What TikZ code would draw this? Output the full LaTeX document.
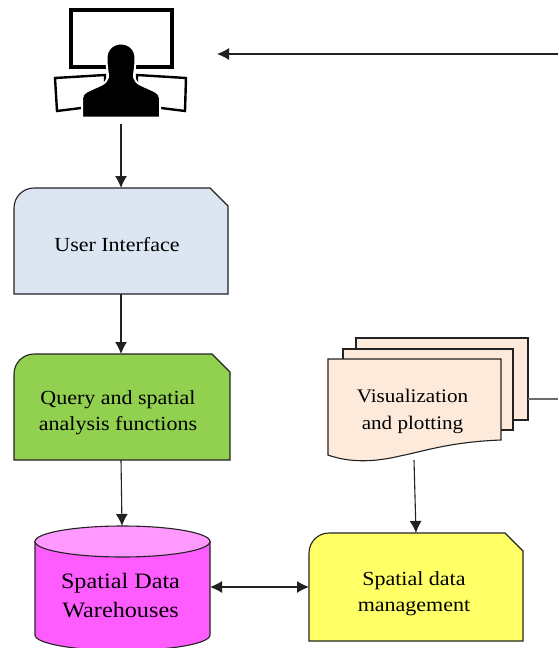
\documentclass[tikz,border=0pt]{standalone}
\usepackage{fontspec}
\setmainfont[FakeStretch=1.1]{Liberation Serif}
\usetikzlibrary{arrows.meta}
\definecolor{uiblue}{HTML}{DCE6F2}
\definecolor{qgreen}{HTML}{92D050}
\definecolor{docpeach}{HTML}{FDEADA}
\definecolor{cylside}{HTML}{FF5CFF}
\definecolor{cyltop}{HTML}{FF99FF}
\definecolor{mgmtyellow}{HTML}{FFFF66}
\definecolor{lineblack}{HTML}{222222}
\tikzset{
  shapeline/.style={draw=lineblack,line width=1.1pt,line join=miter},
  conn/.style={draw=lineblack,line width=1.1pt,-{Latex[length=12pt,width=12pt]}},
  biconn/.style={draw=lineblack,line width=1.1pt,{Latex[length=12pt,width=12pt]}-{Latex[length=12pt,width=12pt]}},
  plainconn/.style={draw=gray!85!black,line width=1.2pt},
  frameline/.style={draw=black,line width=#1,fill=white,line join=miter},
  lbl/.style={inner sep=0pt,align=center,text=black},
  lblmid/.style={lbl,font=\fontsize{20}{26}\selectfont},
  anchorbox/.style={inner sep=0pt,outer sep=0pt,minimum width=#1},
}
\newcommand{\snipbox}[5]{% x0 y0 x1 y1 fill
  \path[shapeline,fill=#5] (#1,#4) -- (#1,#2+20) arc[start angle=180,end angle=90,radius=20pt] -- (#3-18,#2) -- (#3,#2+18) -- (#3,#4) -- cycle;
}
\begin{document}
\begin{tikzpicture}[x=1pt,y=-1pt]
\useasboundingbox (0,0) rectangle (558,648);
\fill[white] (0,0) rectangle (558,648);
% user icon
\draw[frameline=3.4pt] (71,10) rectangle (172,67);
\draw[frameline=2.4pt] (55,78) -- (105,75) -- (105,105) -- (57,111) -- cycle;
\draw[frameline=2.4pt] (137,75) -- (186,78) -- (185,111) -- (137,105) -- cycle;
\path[draw=white,line width=2pt,fill=black] (82,117.5) -- (82,98) .. controls (83,92) and (88,91) .. (92,89) .. controls (98,86) and (107,84) .. (108,77) .. controls (108,72) and (106.5,68) .. (106.5,58) .. controls (106.5,49) and (113,43.5) .. (121,43.5) .. controls (129,43.5) and (135.5,49) .. (135.5,58) .. controls (135.5,68) and (134,72) .. (134,77) .. controls (135,84) and (144,86) .. (150,89) .. controls (154,91) and (159,92) .. (160,98) -- (160,117.5) -- cycle;
\node[inner sep=0pt,minimum width=78pt,minimum height=74pt] (user) at (121,81) {};
% boxes
\snipbox{14}{188}{228}{294}{uiblue}
\node[anchorbox=214pt,minimum height=106pt] (ui) at (121,241) {};
\node[lblmid] at (117,245) {User Interface};
\snipbox{14}{354}{230}{460}{qgreen}
\node[anchorbox=216pt,minimum height=106pt] (query) at (122,407) {};
\node[lblmid] at (118,413) {Query and spatial\\analysis functions};
% documents
\path[shapeline,fill=docpeach] (356,338) rectangle (528,420);
\path[shapeline,fill=docpeach] (343,349) rectangle (513,430);
\path[shapeline,fill=docpeach] (328,359) -- (501,359) -- (501,440) .. controls (450,442) and (425,451) .. (400,456) .. controls (375,462) and (350,463) .. (328,455) -- cycle;
\node[anchorbox=173pt,minimum height=101pt] (vis) at (414.5,409.5) {};
\node[anchorbox=172pt,minimum height=82pt] (backsheet) at (442,379) {};
\node[lbl,font=\fontsize{19.2}{27}\selectfont] at (412.5,411.5) {Visualization\\and plotting};
% cylinder
\begin{scope}
\clip (0,0) rectangle (558,648);
\path[shapeline,fill=cylside] (35,541.5) -- (35,635) arc[start angle=180,end angle=360,x radius=87.5pt,y radius=15.5pt] -- (210,541.5) -- cycle;
\path[shapeline,fill=cyltop] (122.5,541.5) ellipse[x radius=87.5pt,y radius=15.5pt];
\end{scope}
\node[anchorbox=175pt,minimum height=122pt] (dw) at (122.5,587) {};
\node[lbl,font=\fontsize{22}{29}\selectfont] at (120.5,595.5) {Spatial Data\\Warehouses};
% management
\snipbox{309}{533}{523}{641}{mgmtyellow}
\node[anchorbox=214pt,minimum height=108pt] (mgmt) at (416,587) {};
\node[lblmid] at (414,594) {Spatial data\\management};
% connectors
\coordinate (rightend) at (558,54);
\coordinate (iconin) at (217,54);
\coordinate (rightstub) at (558,399);
\coordinate (stubstart) at (528,399);
\coordinate (userfoot) at (121,124);
\coordinate (queryfoot) at (121,460);
\coordinate (dwtop) at (122,526);
\coordinate (visfoot) at (414,460);
\draw[conn] (rightend) -- (iconin);
\draw[plainconn] (stubstart) -- (rightstub);
\draw[conn] (userfoot) -- (ui.north);
\draw[conn] (ui.south) -- (query.north-|ui.south);
\draw[conn] (queryfoot) -- (dwtop);
\draw[conn] (visfoot) -- (mgmt.north);
\draw[biconn] (dw.east) -- (mgmt.west);
\end{tikzpicture}
\end{document}
